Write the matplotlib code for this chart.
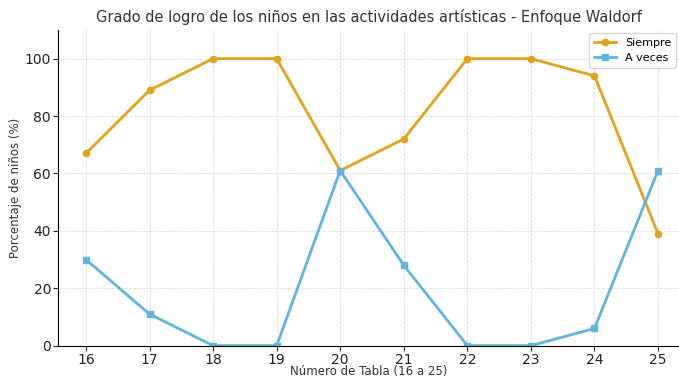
import matplotlib
matplotlib.use('Agg')
import matplotlib.pyplot as plt

# Data
tablas = [16, 17, 18, 19, 20, 21, 22, 23, 24, 25]
siempre = [67, 89, 100, 100, 61, 72, 100, 100, 94, 39]
a_veces = [30, 11, 0, 0, 61, 28, 0, 0, 6, 61]

fig = plt.figure(figsize=(6.79, 3.79), dpi=100)
ax = fig.add_axes([0.0854, 0.0880, 0.9146, 0.8330])

ax.plot(tablas, siempre, color='#E3A21A', marker='o', markersize=4.5,
        linewidth=2, label='Siempre')
ax.plot(tablas, a_veces, color='#5DB5E0', marker='s', markersize=4.5,
        linewidth=2, label='A veces')

ax.set_xlim(15.56, 25.33)
ax.set_ylim(0, 110)
ax.set_xticks(tablas)
ax.set_yticks([0, 20, 40, 60, 80, 100])
ax.tick_params(labelsize=10, colors='#222222', pad=1.5)

ax.grid(True, linestyle='--', color='#dddddd', linewidth=0.6)
ax.spines['top'].set_visible(False)
ax.spines['right'].set_visible(False)

ax.set_title('Grado de logro de los niños en las actividades artísticas - Enfoque Waldorf',
             fontsize=10.5, color='#333333', pad=6)
ax.set_xlabel('Número de Tabla (16 a 25)', fontsize=8.5, color='#333333', labelpad=-1)
ax.set_ylabel('Porcentaje de niños (%)', fontsize=8.5, color='#333333', labelpad=2)
ax.legend(loc='upper right', fontsize=8, borderaxespad=0.3)

fig.savefig('out.png', dpi=100)
